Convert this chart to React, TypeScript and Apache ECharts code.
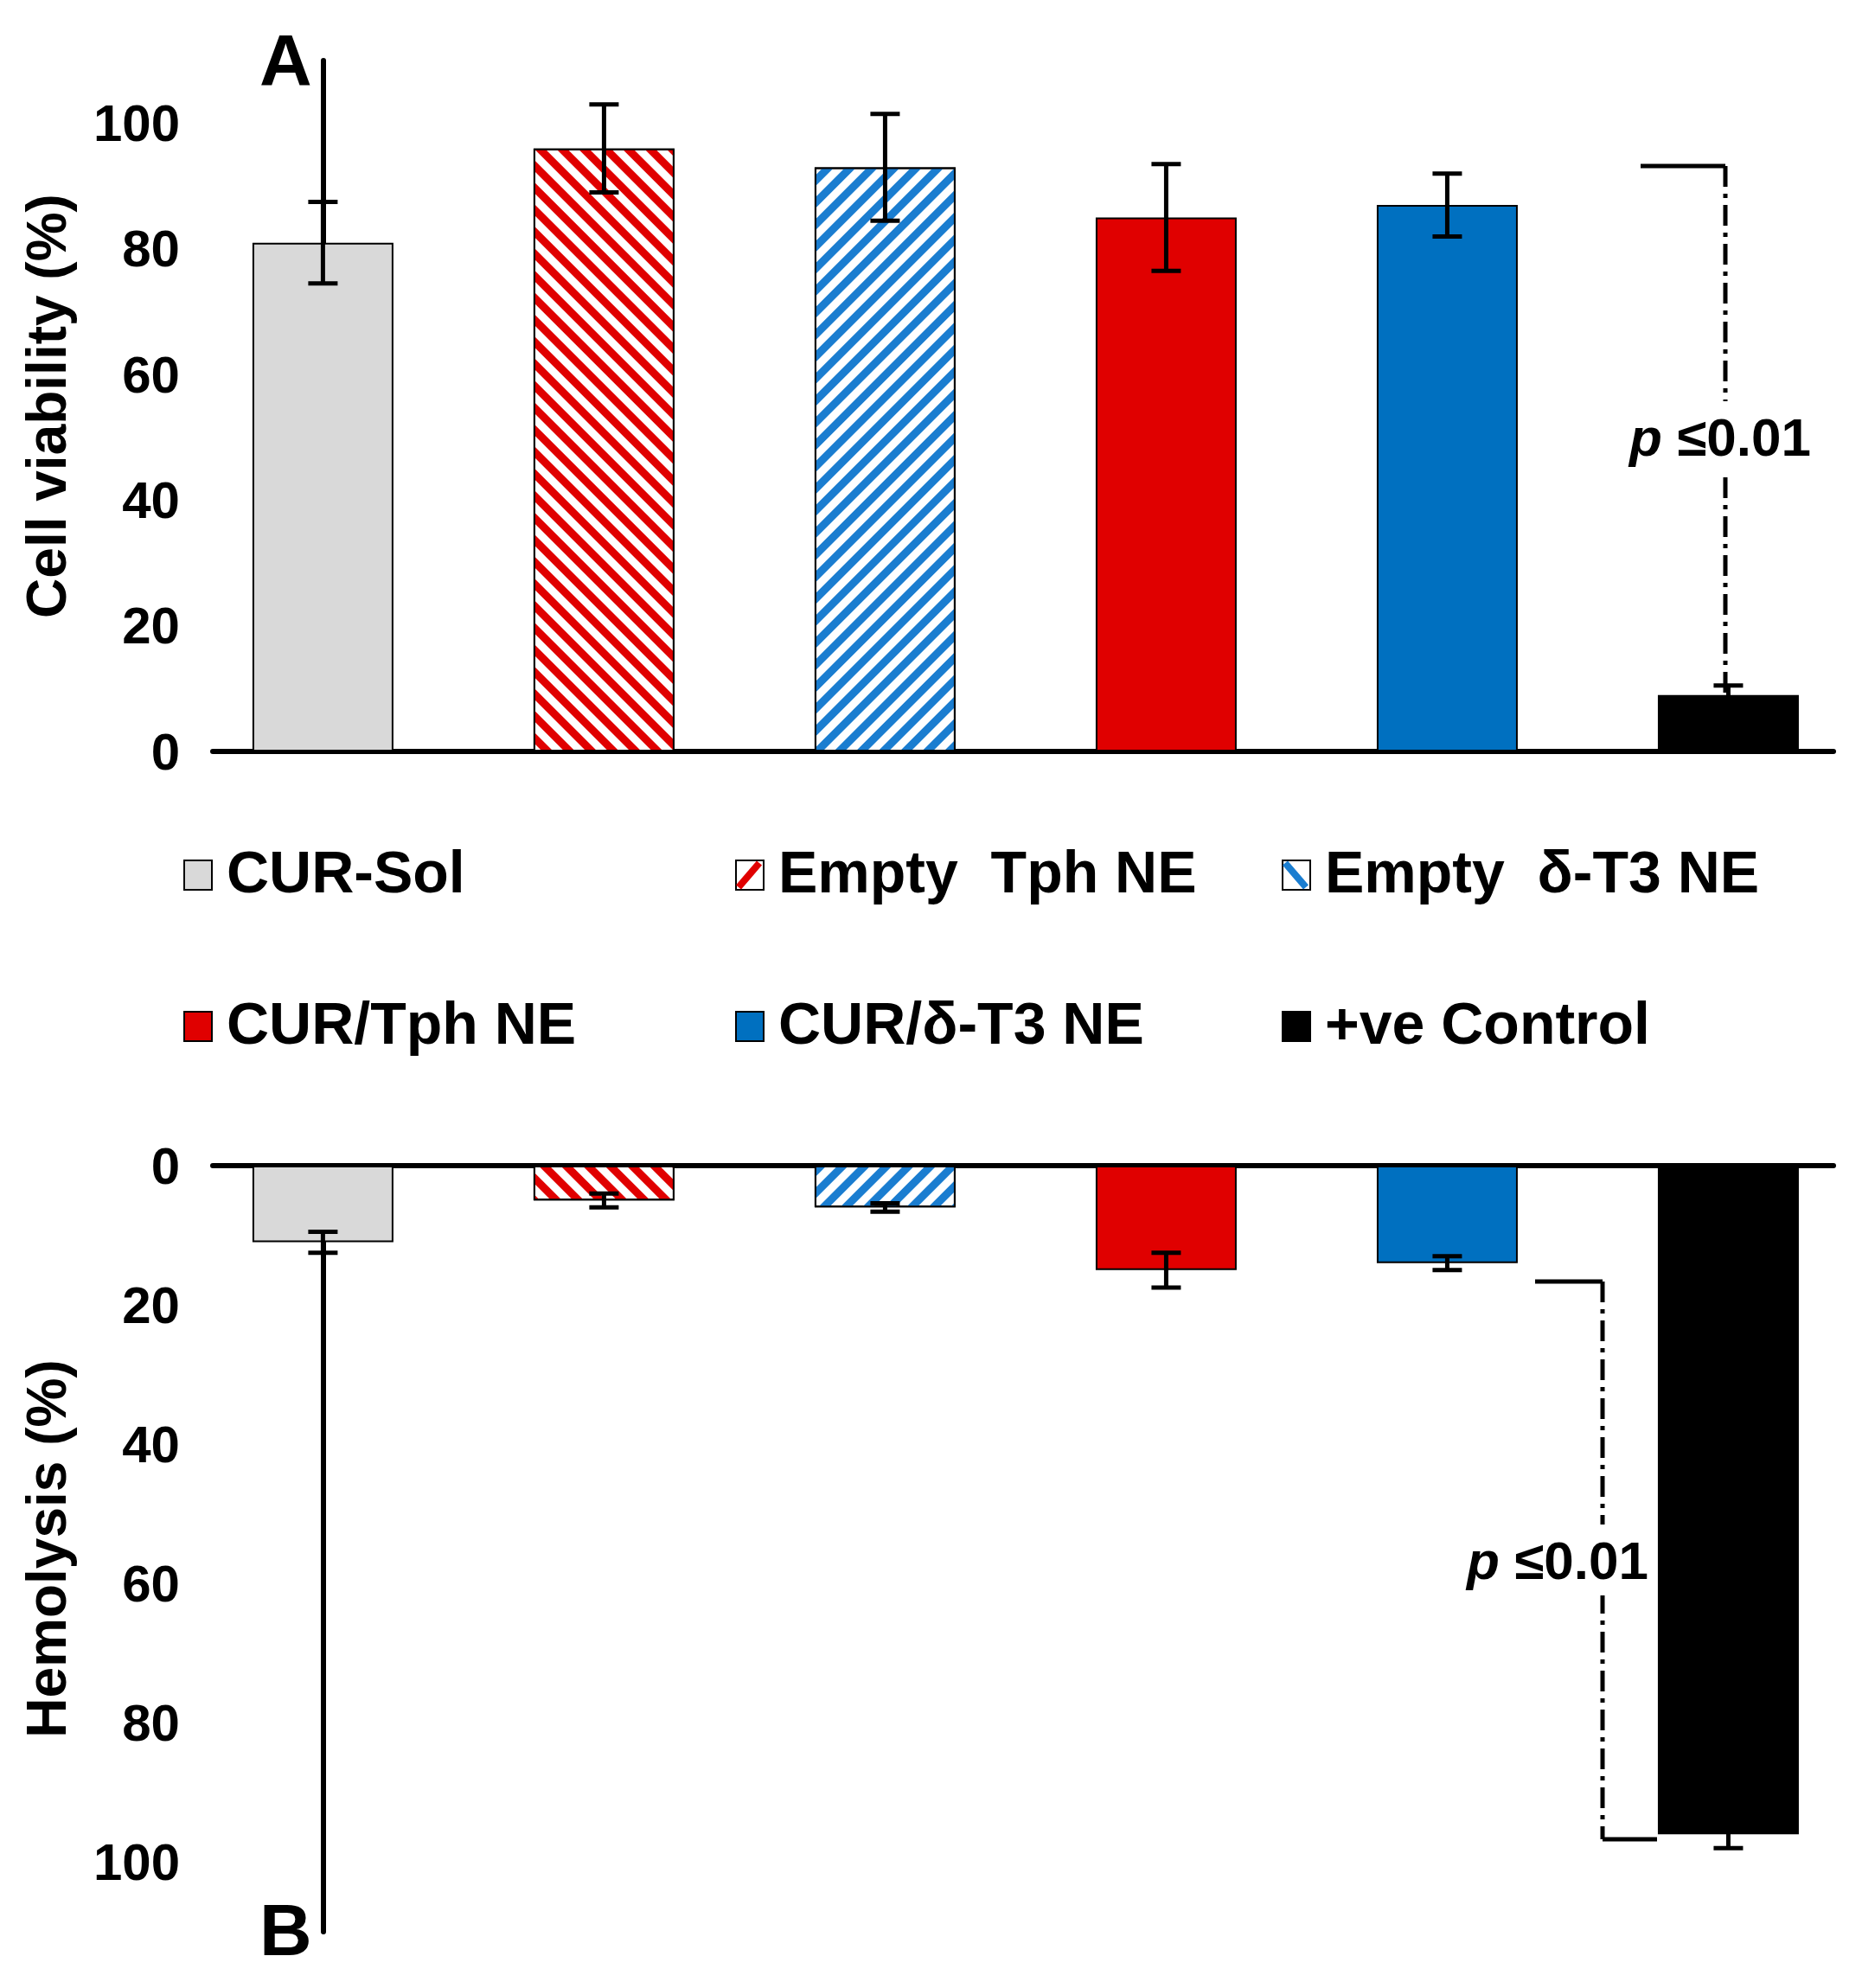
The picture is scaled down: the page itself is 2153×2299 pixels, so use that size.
import React, { useEffect, useRef } from "react";
import * as echarts from "echarts";

const categories = ["CUR-Sol", "Empty Tph NE", "Empty δ-T3 NE", "CUR/Tph NE", "CUR/δ-T3 NE", "+ve Control"];
const viability = [81, 96, 93, 85, 87, 9];
const viabilityErr = [6.5, 7, 8.5, 8.5, 5, 1.5];
const hemolysis = [11, 5, 6, 15, 14, 96];
const hemolysisErr = [1.5, 1, 0.6, 2.5, 1, 2];
const yTicks = [0, 20, 40, 60, 80, 100];

const FONT = "Liberation Sans, Arial, sans-serif";
const fills = ["#d9d9d9", "#ffffff", "#ffffff", "#e00000", "#0070c0", "#000000"];
const decals: any[] = [
  null,
  { symbol: "rect", color: "#e00000", dashArrayX: [1, 0], dashArrayY: [9, 9], rotation: Math.PI / 4, symbolSize: 1 },
  { symbol: "rect", color: "#1a7dd0", dashArrayX: [1, 0], dashArrayY: [9, 9], rotation: -Math.PI / 4, symbolSize: 1 },
  null,
  null,
  null,
];

const barData = (vals: number[]) =>
  vals.map((v, i) => ({
    value: [i, v],
    itemStyle: { color: fills[i], borderColor: "#000", borderWidth: 2, decal: decals[i] || undefined },
  }));

const errData = (vals: number[], errs: number[]) => vals.map((v, i) => [i, v - errs[i], v + errs[i]]);

const errSeries = (axis: number, vals: number[], errs: number[]) => ({
  type: "custom",
  xAxisIndex: axis,
  yAxisIndex: axis,
  data: errData(vals, errs),
  z: 10,
  renderItem: (params: any, api: any) => {
    const lo = api.coord([api.value(0), api.value(1)]);
    const hi = api.coord([api.value(0), api.value(2)]);
    const w = 17;
    const style = { stroke: "#000", lineWidth: 5 };
    return {
      type: "group",
      children: [
        { type: "line", shape: { x1: lo[0], y1: lo[1], x2: hi[0], y2: hi[1] }, style },
        { type: "line", shape: { x1: lo[0] - w, y1: lo[1], x2: lo[0] + w, y2: lo[1] }, style },
        { type: "line", shape: { x1: hi[0] - w, y1: hi[1], x2: hi[0] + w, y2: hi[1] }, style },
      ],
    };
  },
});

const legendX = [212, 850, 1482];
const legendY = [1011, 1186];
const legendGraphics = () => {
  const out: any[] = [];
  categories.forEach((c, i) => {
    const x = legendX[i % 3];
    const y = legendY[Math.floor(i / 3)];
    out.push({ type: "rect", left: x, top: y - 17, shape: { width: 32, height: 34 }, style: { fill: fills[i], stroke: "#000", lineWidth: 2 } });
    if (i === 1) out.push({ type: "line", shape: { x1: x + 4, y1: y + 15, x2: x + 28, y2: y - 13 }, style: { stroke: "#e00000", lineWidth: 8 } });
    if (i === 2) out.push({ type: "line", shape: { x1: x + 4, y1: y - 13, x2: x + 28, y2: y + 15 }, style: { stroke: "#1a7dd0", lineWidth: 8 } });
    out.push({ type: "text", left: x + 50, top: y - 37, style: { text: c.replace("Empty Tph", "Empty  Tph").replace("Empty δ", "Empty  δ"), font: `bold 68px ${FONT}`, fill: "#000" } });
  });
  return out;
};

const dashStyle = { stroke: "#000", lineWidth: 5, lineDash: [24, 8, 5, 8] };
const pText = (x: number, y: number) => ({
  type: "text", x, y, z: 20,
  style: {
    text: "{i|p} ≤0.01", font: `bold 62px ${FONT}`, fill: "#000", align: "center", verticalAlign: "middle",
    backgroundColor: "#fff", padding: [10, 4],
    rich: { i: { fontStyle: "italic", fontWeight: "bold", fontSize: 62, fontFamily: FONT } },
  },
});

export default function App() {
  const ref = useRef<HTMLDivElement>(null);
  useEffect(() => {
    document.body.style.margin = "0";
    if (!ref.current) return;
    const chart = echarts.init(ref.current, null, { renderer: "svg" });
    const yAxisCommon = {
      type: "value",
      min: 0,
      max: 110,
      interval: 20,
      nameLocation: "middle",
      nameGap: 160,
      nameTextStyle: { fontSize: 64, fontWeight: "bold", fontFamily: FONT, color: "#000" },
      axisLine: { show: true, lineStyle: { color: "#000", width: 6 } },
      axisTick: { show: false },
      splitLine: { show: false },
      axisLabel: { fontSize: 60, fontWeight: "bold", fontFamily: FONT, color: "#000", margin: 38, formatter: (v: number) => (yTicks.includes(v) ? String(v) : "") },
    };
    const xAxisCommon = {
      type: "value",
      min: -0.392,
      max: 5.374,
      axisLine: { show: true, onZero: false, lineStyle: { color: "#000", width: 6 } },
      axisTick: { show: false },
      axisLabel: { show: false },
      splitLine: { show: false },
    };
    chart.setOption({
      animation: false,
      backgroundColor: "#fff",
      grid: [
        { left: 246, right: 33, top: 70, height: 799 },
        { left: 246, right: 33, top: 1348, height: 886 },
      ],
      xAxis: [
        { ...xAxisCommon, gridIndex: 0, position: "bottom" },
        { ...xAxisCommon, gridIndex: 1, position: "top" },
      ],
      yAxis: [
        { ...yAxisCommon, gridIndex: 0, name: "Cell viability (%)" },
        { ...yAxisCommon, gridIndex: 1, inverse: true, name: "Hemolysis (%)" },
      ],
      series: [
        { type: "bar", xAxisIndex: 0, yAxisIndex: 0, barWidth: 163, data: barData(viability) },
        errSeries(0, viability, viabilityErr),
        { type: "bar", xAxisIndex: 1, yAxisIndex: 1, barWidth: 163, data: barData(hemolysis) },
        errSeries(1, hemolysis, hemolysisErr),
      ],
      graphic: [
        { type: "text", left: 300, top: 28, style: { text: "A", font: `bold 84px ${FONT}`, fill: "#000" } },
        { type: "text", left: 300, top: 2190, style: { text: "B", font: `bold 84px ${FONT}`, fill: "#000" } },
        ...legendGraphics(),
        { type: "line", shape: { x1: 1897, y1: 192, x2: 1995, y2: 192 }, style: { stroke: "#000", lineWidth: 5 } },
        { type: "line", shape: { x1: 1995, y1: 192, x2: 1995, y2: 803 }, style: dashStyle },
        pText(1989, 505),
        { type: "line", shape: { x1: 1775, y1: 1482, x2: 1853, y2: 1482 }, style: { stroke: "#000", lineWidth: 5 } },
        { type: "line", shape: { x1: 1853, y1: 1482, x2: 1853, y2: 2127 }, style: dashStyle },
        { type: "line", shape: { x1: 1853, y1: 2127, x2: 1916, y2: 2127 }, style: { stroke: "#000", lineWidth: 5 } },
        pText(1801, 1804),
      ],
    });
    return () => chart.dispose();
  }, []);
  return <div ref={ref} style={{ width: 2153, height: 2299 }} />;
}
